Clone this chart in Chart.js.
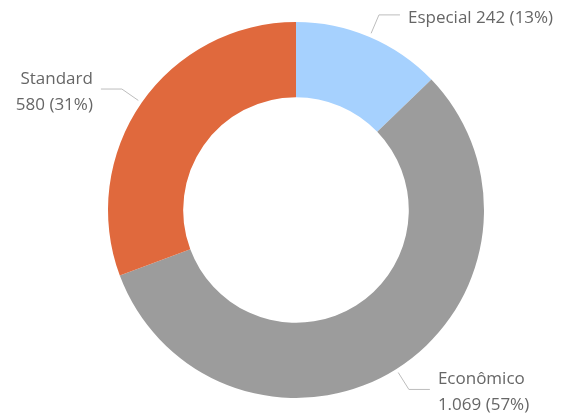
<!DOCTYPE html>
<html>
<head>
<meta charset="utf-8">
<script src="https://cdn.jsdelivr.net/npm/chart.js@4.4.1/dist/chart.umd.min.js"></script>
<style>
  html, body { margin: 0; padding: 0; background: #ffffff; }
  #grafico { display: block; }
</style>
</head>
<body>
<canvas id="grafico" width="561" height="417"></canvas>
<script>
// Vendas por categoria
const categorias = ["Especial", "Econômico", "Standard"];
const valores = [242, 1069, 580];
const cores = ["#A6D1FE", "#9C9C9C", "#E0693D"];

const fonte = "17px 'Open Sans', 'Noto Sans', sans-serif";
const corTexto = "#666666";
const corLinha = "#BDBDBD";

const formatoNumero = new Intl.NumberFormat("pt-BR");

// Rótulos externos com linha de chamada
const rotulosExternos = {
    id: "rotulosExternos",
    afterDraw(chart) {
        const ctx = chart.ctx;
        const meta = chart.getDatasetMeta(0);
        const dados = chart.data.datasets[0].data;
        const total = dados.reduce((a, b) => a + b, 0);

        ctx.save();
        ctx.font = fonte;
        ctx.textBaseline = "middle";

        meta.data.forEach((arco, i) => {
            const p = arco.getProps(["x", "y", "startAngle", "endAngle", "outerRadius"], true);
            const meio = (p.startAngle + p.endAngle) / 2;
            const dx = Math.cos(meio);
            const dy = Math.sin(meio);
            const direita = dx >= 0;

            const x0 = p.x + dx * (p.outerRadius + 4);
            const y0 = p.y + dy * (p.outerRadius + 4);
            const x1 = p.x + dx * (p.outerRadius + 24);
            const y1 = p.y + dy * (p.outerRadius + 24);
            const x2 = x1 + (direita ? 21 : -21);

            ctx.strokeStyle = corLinha;
            ctx.lineWidth = 1;
            ctx.beginPath();
            ctx.moveTo(x0, y0);
            ctx.lineTo(x1, y1);
            ctx.lineTo(x2, y1);
            ctx.stroke();

            const pct = Math.round(dados[i] / total * 100);
            const valorTxt = formatoNumero.format(dados[i]) + " (" + pct + "%)";
            const completo = chart.data.labels[i] + " " + valorTxt;
            const xt = x2 + (direita ? 8 : -8);
            const largura = ctx.measureText(completo).width;
            const cabe = direita ? xt + largura <= chart.width - 2 : xt - largura >= 2;
            const linhas = cabe ? [completo] : [chart.data.labels[i], valorTxt];

            ctx.fillStyle = corTexto;
            ctx.textAlign = direita ? "left" : "right";
            const alturaLinha = 26;
            const topo = y1 + 3 - (linhas.length - 1) * alturaLinha / 2;
            linhas.forEach((t, j) => ctx.fillText(t, xt, topo + j * alturaLinha));
        });
        ctx.restore();
    }
};

new Chart(document.getElementById("grafico"), {
    type: "doughnut",
    data: {
        labels: categorias,
        datasets: [{
            data: valores,
            backgroundColor: cores,
            borderWidth: 0,
            hoverOffset: 0
        }]
    },
    options: {
        responsive: false,
        animation: false,
        cutout: "60%",
        layout: {
            padding: { top: 22, bottom: 19, left: 108, right: 77 }
        },
        plugins: {
            legend: { display: false },
            tooltip: { enabled: false }
        }
    },
    plugins: [rotulosExternos]
});
</script>
</body>
</html>
